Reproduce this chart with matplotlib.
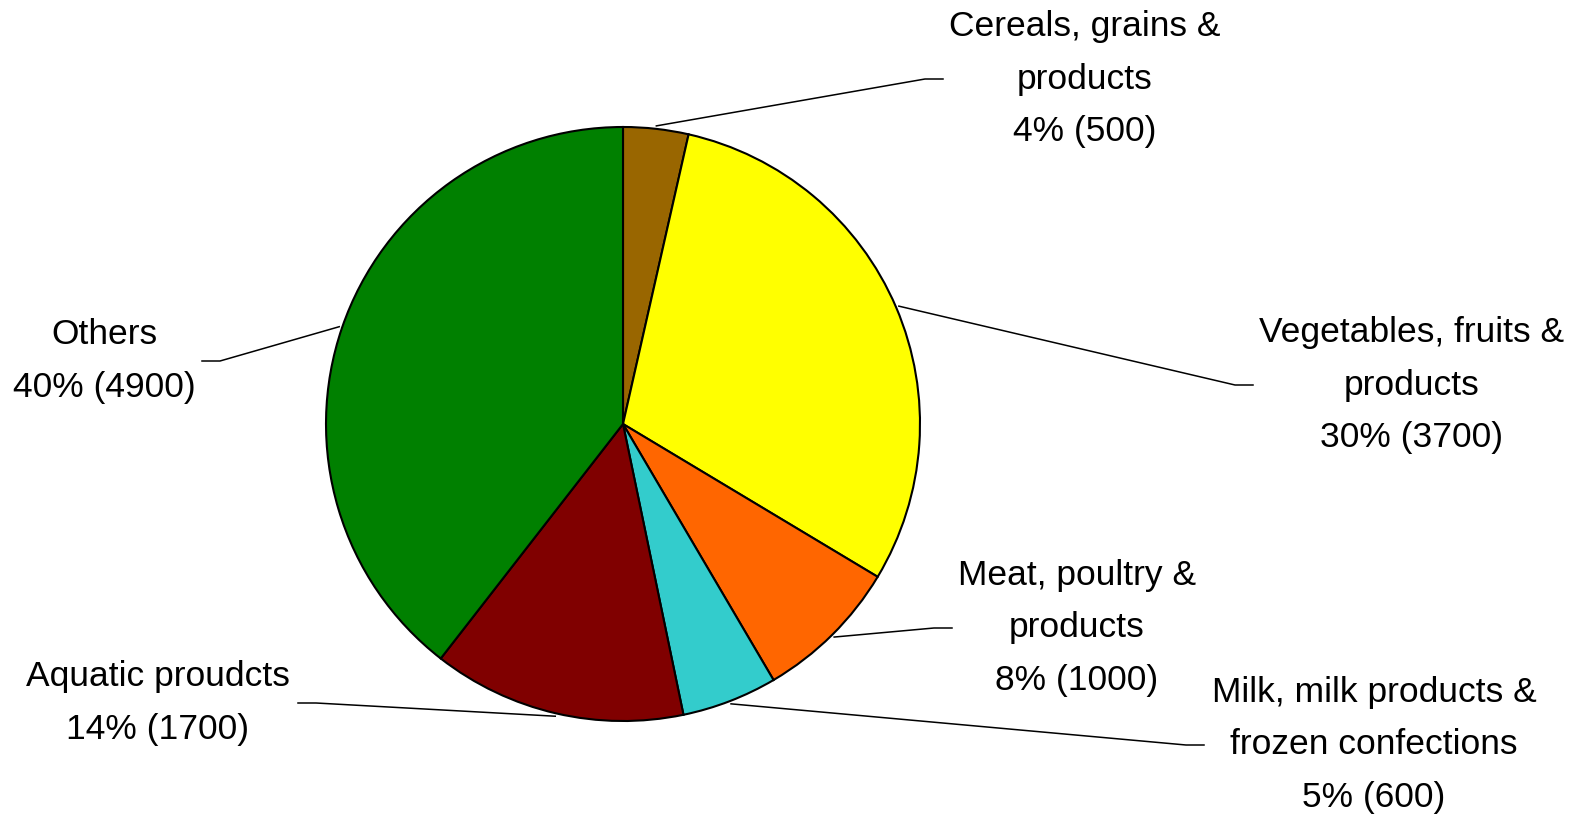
import numpy as np
import matplotlib
matplotlib.use("Agg")
import matplotlib.pyplot as plt

plt.rcParams['font.family'] = ['Liberation Sans', 'DejaVu Sans']

# food categories; slice sizes,
# the printed (rounded) counts and percentages as they appear in the labels
categories = [
    "Cereals, grains &\nproducts",
    "Vegetables, fruits &\nproducts",
    "Meat, poultry &\nproducts",
    "Milk, milk products &\nfrozen confections",
    "Aquatic proudcts",
    "Others",
]
slice_values = [440, 3730, 985, 645, 1710, 4900]
count_labels = ["500", "3700", "1000", "600", "1700", "4900"]
percents = ["4%", "30%", "8%", "5%", "14%", "40%"]
colors = ["#996600", "#FFFF00", "#FF6600", "#33CCCC", "#800000", "#008000"]

W, H = 1584, 816
fig = plt.figure(figsize=(W / 100, H / 100), dpi=100)
ax = fig.add_axes([0, 0, 1, 1])

cx, cy, r = 623, H - 424, 297
wedges, _ = ax.pie(slice_values, colors=colors, startangle=90, counterclock=False,
                   center=(cx, cy), radius=r,
                   wedgeprops=dict(edgecolor="black", linewidth=1.5))
ax.set_xlim(0, W)
ax.set_ylim(0, H)
ax.set_aspect("equal")
ax.axis("off")

# label layout: text centre (x, y from top), leader end x, side of the text
label_pos = [(1085, 79), (1412, 385), (1077, 628), (1374, 745), (158, 703), (104, 361)]
leader_end = [943, 1253, 952, 1204, 298, 202]
sides = [1, 1, 1, 1, -1, -1]

for i, w in enumerate(wedges):
    tx, ty = label_pos[i]
    ang = np.deg2rad((w.theta1 + w.theta2) / 2)
    x0 = cx + 1.01 * r * np.cos(ang)
    y0 = cy + 1.01 * r * np.sin(ang)
    text = f"{categories[i]}\n{percents[i]} ({count_labels[i]})"
    ax.text(tx, H - ty, text, ha="center", va="center", multialignment="center",
            fontsize=25.5, linespacing=1.75, color="black")
    x_end = leader_end[i]
    x_elb = x_end - 18 * sides[i]
    ax.plot([x0, x_elb, x_end], [y0, H - ty, H - ty], color="black", lw=1.1)

fig.savefig("out.png", dpi=100)
